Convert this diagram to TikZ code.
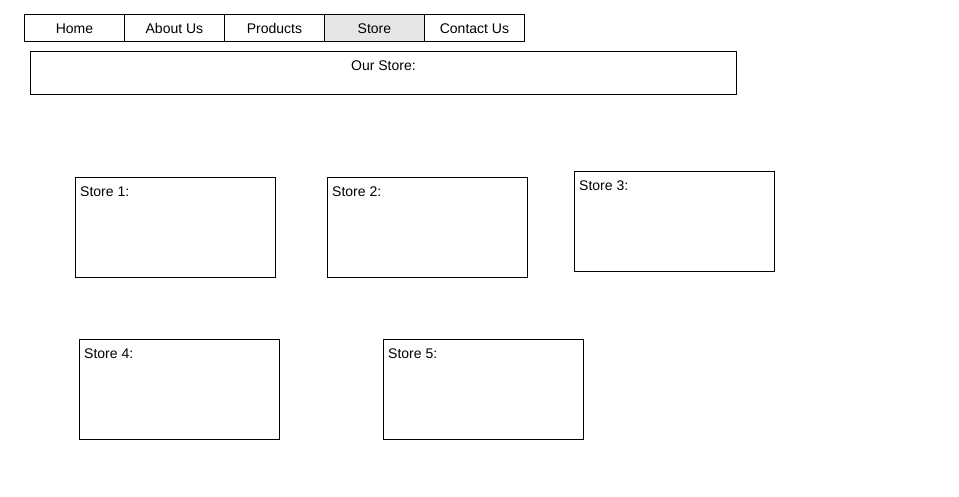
\documentclass[tikz,border=0pt]{standalone}
\usepackage{fontspec}
\setmainfont{Liberation Sans}
\usepackage{xcolor}
\usepackage{tikz}
\usetikzlibrary{positioning}

\definecolor{tabgray}{HTML}{E6E6E6}

\begin{document}
\begin{tikzpicture}[
        x=1pt, y=-1pt,
        font=\fontsize{14}{16}\selectfont,
        tab/.style={draw, rectangle, line width=0.9pt, minimum width=100pt, minimum height=27pt, inner sep=0pt, anchor=north west, text depth=0pt, text height=11pt},
        banner/.style={draw, rectangle, line width=0.9pt, minimum width=706pt, minimum height=43pt, inner sep=0pt, anchor=north west},
        storebox/.style={draw, rectangle, line width=0.9pt, minimum width=200pt, minimum height=100pt, inner sep=0pt, anchor=north west},
        boxtitle/.style={anchor=north west, inner sep=0pt, xshift=5pt, yshift=-10pt}
    ]
    \useasboundingbox (0,0) rectangle (959,496);

    % Menu
    \node[tab] (home) at (24,14) {Home};
    \node[tab] (about) at (124,14) {About Us};
    \node[tab] (products) at (224,14) {Products};
    \node[tab, fill=tabgray] (store) at (324,14) {Store};
    \node[tab] (contact) at (424,14) {Contact Us};

    % Bandeau
    \node[banner] (ourstore) at (30,51) {};
    \node[anchor=north, inner sep=0pt, yshift=-10pt] (ourstoretxt) at (ourstore.north) {Our Store:};

    % Magasins
    \node[storebox] (s1) at (75,177) {};
    \node[storebox] (s2) at (327,177) {};
    \node[storebox] (s3) at (574,171) {};
    \node[storebox] (s4) at (79,339) {};
    \node[storebox] (s5) at (383,339) {};
    \node[boxtitle] (t1) at (s1.north west) {Store 1:};
    \node[boxtitle] (t2) at (s2.north west) {Store 2:};
    \node[boxtitle] (t3) at (s3.north west) {Store 3:};
    \node[boxtitle] (t4) at (s4.north west) {Store 4:};
    \node[boxtitle] (t5) at (s5.north west) {Store 5:};
\end{tikzpicture}
\end{document}
